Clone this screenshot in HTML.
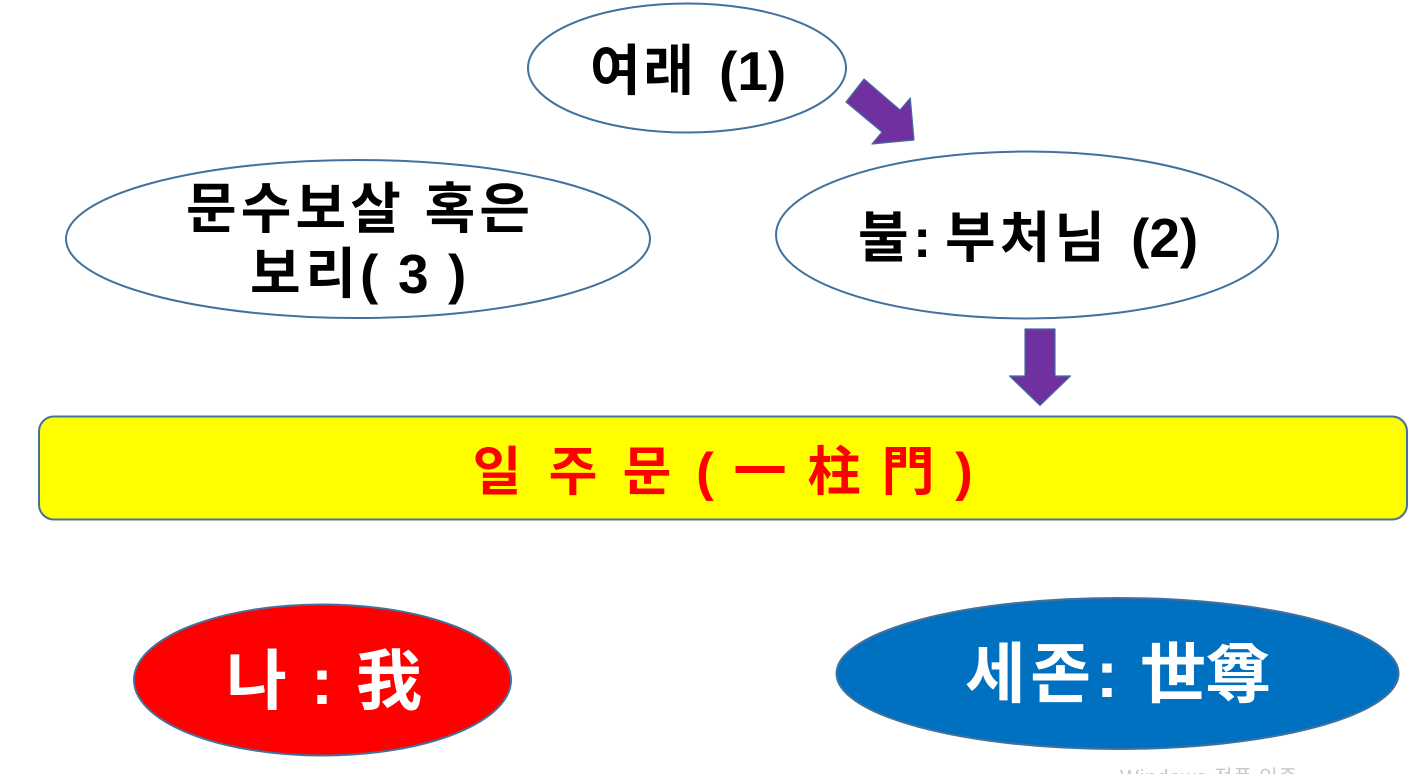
<!DOCTYPE html>
<html lang="ko">
<head>
<meta charset="utf-8">
<title>일주문</title>
<style>
html,body{margin:0;padding:0;background:#fff;width:1428px;height:774px;overflow:hidden}
svg{display:block}
text{font-family:"Liberation Sans","Noto Sans CJK KR",sans-serif;font-weight:700}
text.k{font-family:"Noto Sans CJK KR","Liberation Sans",sans-serif}
</style>
</head>
<body>
<svg width="1428" height="774" viewBox="0 0 1428 774" xmlns="http://www.w3.org/2000/svg">
  <g fill="#fff" stroke="#41719c" stroke-width="2">
    <ellipse cx="687" cy="68" rx="159" ry="64.500"/>
    <ellipse cx="358" cy="239" rx="292" ry="79"/>
    <ellipse cx="1027" cy="235" rx="251" ry="83.500"/>
  </g>
  <g fill="#7030a0" stroke="#41719c" stroke-width="1.200" stroke-linejoin="round">
    <polygon points="864,79 846,102 882,132 872,144 914,140 910.300,98 900,110"/>
    <polygon points="1025,329 1055,329 1055,376 1070.500,376 1040,405.500 1009.500,376 1025,376"/>
  </g>
  <rect x="39" y="416.500" width="1368" height="103" rx="15" ry="15" fill="#ff0" stroke="#41719c" stroke-width="2"/>
  <ellipse cx="322.500" cy="680" rx="188.500" ry="75.500" fill="#f00" stroke="#41719c" stroke-width="2"/>
  <ellipse cx="1117.500" cy="673.500" rx="281" ry="75.500" fill="#0070c0" stroke="#41719c" stroke-width="2"/>

  <g fill="#000" font-size="55">
    <text class="k" x="590" y="90" textLength="104" lengthAdjust="spacing">여래</text>
    <text x="719" y="90">(1)</text>
    <text class="k" x="186" y="228" textLength="344" lengthAdjust="spacing">문수보살 혹은</text>
    <text class="k" x="250" y="293" textLength="106" lengthAdjust="spacing">보리</text>
    <text x="360" y="293">(</text>
    <text x="398" y="293">3</text>
    <text x="448" y="293">)</text>
    <text class="k" x="858" y="257">불</text>
    <text x="913" y="257">:</text>
    <text class="k" x="945" y="257" textLength="160" lengthAdjust="spacing">부처님</text>
    <text x="1131" y="257">(2)</text>
  </g>

  <g fill="#f00" font-size="53" text-anchor="middle">
    <text class="k" x="497" y="490">일</text>
    <text class="k" x="573" y="490">주</text>
    <text class="k" x="647" y="490">문</text>
    <text x="705" y="490">(</text>
    <text class="k" x="760" y="490">一</text>
    <text class="k" x="834" y="490">柱</text>
    <text class="k" x="908" y="490">門</text>
    <text x="964" y="490">)</text>
  </g>

  <g fill="#fff" font-size="66">
    <text class="k" x="226" y="704">나</text>
    <text x="311" y="704">:</text>
    <text class="k" x="356" y="704">我</text>
    <text class="k" x="965" y="697" textLength="126" lengthAdjust="spacing">세존</text>
    <text x="1096" y="697">:</text>
    <text class="k" x="1140" y="697" textLength="131" lengthAdjust="spacing">世尊</text>
  </g>

  <text x="1120" y="784" font-size="20" fill="#c8c8c8" textLength="177" lengthAdjust="spacing" style="font-weight:400">Windows 정품 인증</text>
</svg>
</body>
</html>
